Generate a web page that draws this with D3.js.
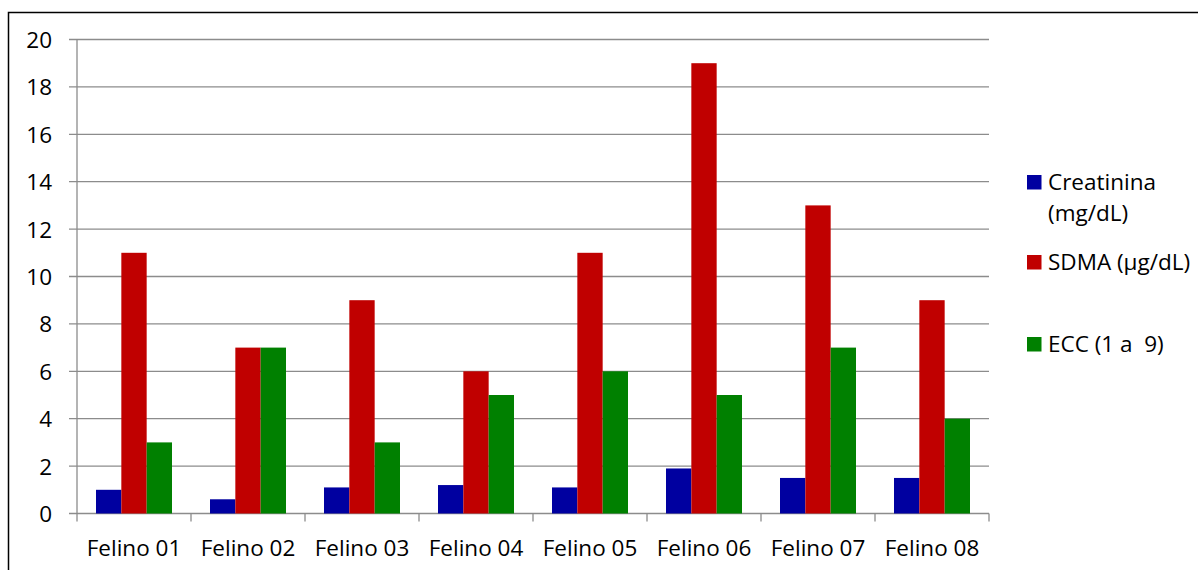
<!DOCTYPE html>
<html>
<head>
<meta charset="utf-8">
<script src="https://cdn.jsdelivr.net/npm/d3@7"></script>
<style>
  html, body { margin: 0; padding: 0; background: #fff; }
  svg { display: block; }
  text { font-family: "Open Sans", "Noto Sans", sans-serif; fill: #000; }
</style>
</head>
<body>
<svg id="chart" width="1198" height="570"></svg>
<script>
// Data
const categories = ["Felino 01", "Felino 02", "Felino 03", "Felino 04", "Felino 05", "Felino 06", "Felino 07", "Felino 08"];
const seriesNames = ["Creatinina (mg/dL)", "SDMA (µg/dL)", "ECC (1 a  9)"];
const creatinina = [1.0, 0.6, 1.1, 1.2, 1.1, 1.9, 1.5, 1.5];
const sdma = [11, 7, 9, 6, 11, 19, 13, 9];
const ecc = [3, 7, 3, 5, 6, 5, 7, 4];
const yTicks = [0, 2, 4, 6, 8, 10, 12, 14, 16, 18, 20];
const seriesValues = [creatinina, sdma, ecc];
const colors = ["#0000a0", "#c00000", "#008000"];

const svg = d3.select("#chart");
const fontSize = "22.5px";

// Outer frame (top and left edges visible inside the window)
svg.append("path")
  .attr("d", "M8.5,570 V12.5 H1198")
  .attr("fill", "none")
  .attr("stroke", "#000")
  .attr("stroke-width", 1.5);

const plot = { left: 77, right: 989, top: 39.5, bottom: 513.5 };

const x0 = d3.scaleBand().domain(categories).range([plot.left, plot.right]).paddingInner(0).paddingOuter(0);
const x1 = d3.scaleBand().domain(d3.range(seriesNames.length)).range([0, x0.bandwidth()]).paddingInner(0).paddingOuter(0.75);
const y = d3.scaleLinear().domain([0, 20]).range([plot.bottom, plot.top]);

const gridColor = "#8c8c8c";

// Horizontal gridlines (extend left to form the y tick marks)
svg.append("g").selectAll("line").data(yTicks).join("line")
  .attr("x1", plot.left - 8).attr("x2", plot.right)
  .attr("y1", d => y(d)).attr("y2", d => y(d))
  .attr("stroke", gridColor).attr("stroke-width", 1.3);

// Y axis line
svg.append("line")
  .attr("x1", plot.left).attr("x2", plot.left)
  .attr("y1", plot.top).attr("y2", plot.bottom)
  .attr("stroke", gridColor).attr("stroke-width", 1.3);

// Y tick labels
svg.append("g").selectAll("text").data(yTicks).join("text")
  .attr("x", 52).attr("y", d => y(d))
  .attr("text-anchor", "end").attr("dominant-baseline", "central")
  .style("font-size", fontSize)
  .text(d => d);

// X tick marks at category boundaries
const boundaries = categories.map(c => x0(c)).concat([plot.right]);
svg.append("g").selectAll("line").data(boundaries).join("line")
  .attr("x1", d => d).attr("x2", d => d)
  .attr("y1", plot.bottom).attr("y2", plot.bottom + 8)
  .attr("stroke", gridColor).attr("stroke-width", 1.3);

// Bars
const groups = svg.append("g").selectAll("g").data(categories).join("g")
  .attr("transform", c => `translate(${x0(c)},0)`);
groups.selectAll("rect")
  .data((c, i) => seriesValues.map((vals, s) => ({ s, v: vals[i] })))
  .join("rect")
  .attr("x", d => x1(d.s))
  .attr("width", x1.bandwidth())
  .attr("y", d => y(d.v))
  .attr("height", d => y(0) - y(d.v))
  .attr("fill", d => colors[d.s]);

// X category labels
svg.append("g").selectAll("text").data(categories).join("text")
  .attr("x", c => x0(c) + x0.bandwidth() / 2)
  .attr("y", 556)
  .attr("text-anchor", "middle")
  .style("font-size", fontSize)
  .text(c => c);

// Legend
const legendItems = [
  { lines: ["Creatinina", "(mg/dL)"], top: 175 },
  { lines: ["SDMA (µg/dL)"], top: 255 },
  { lines: ["ECC (1 a  9)"], top: 337 }
];
const legend = svg.append("g");
legendItems.forEach((item, i) => {
  legend.append("rect")
    .attr("x", 1027).attr("y", item.top)
    .attr("width", 14.5).attr("height", 14.5)
    .attr("fill", colors[i]);
  item.lines.forEach((ln, j) => {
    legend.append("text")
      .attr("x", 1048).attr("y", item.top + 15 + j * 31)
      .style("font-size", fontSize)
      .style("white-space", "pre")
      .attr("xml:space", "preserve")
      .text(ln);
  });
});
</script>
</body>
</html>
